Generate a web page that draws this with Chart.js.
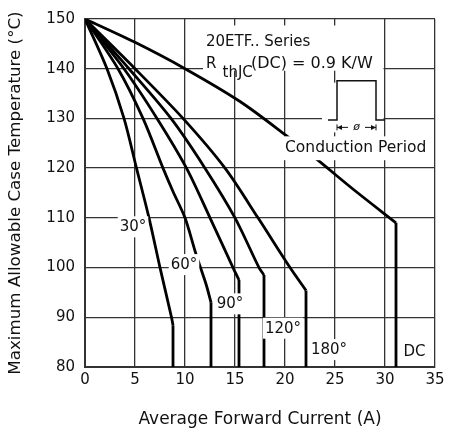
<!DOCTYPE html>
<html>
<head>
<meta charset="utf-8">
<script src="https://cdn.jsdelivr.net/npm/chart.js@4"></script>
<style>
html, body { margin: 0; padding: 0; background: #fff; }
#wrap { width: 449px; height: 434px; }
</style>
</head>
<body>
<div id="wrap"><canvas id="chartCaseTemp" width="449" height="434"></canvas></div>
<script>
// curve readings: average forward current (A) vs max case temperature (deg C)
// last point of each list is the foot of the vertical drop
var cur30 = [0, 2.2, 3.9, 5.15, 6.4, 7.5, 8.65, 8.8, 8.8];
var temp30 = [150, 140, 130, 120, 110, 100, 90, 88.4, 80];

var cur60 = [0, 3.3, 5.8, 7.8, 8.8, 10.0, 11.1, 12.1, 12.6, 12.6];
var temp60 = [150, 140, 130, 120, 115.3, 110, 102.7, 96.7, 93, 80];

var cur90 = [0, 3.9, 7.2, 10.15, 12.5, 14.8, 15.4, 15.4];
var temp90 = [150, 140, 130, 120, 110, 100, 97.5, 80];

var cur120 = [0, 4.4, 8.6, 12.0, 15.0, 17.4, 17.9, 17.9];
var temp120 = [150, 140, 130, 120, 110, 100, 98.5, 80];

var cur180 = [0, 5.0, 9.8, 14.0, 17.3, 20.5, 22.1, 22.1];
var temp180 = [150, 140, 130, 120, 110, 100, 95.4, 80];

var curDC = [0, 5, 10, 15.5, 20.1, 23.1, 27.1, 31.1, 31.1];
var tempDC = [150, 145.3, 140, 133.4, 126.6, 121.9, 115.3, 109, 80];

var curveLabels = ['30°', '60°', '90°', '120°', '180°', 'DC'];
var xTicks = [0, 5, 10, 15, 20, 25, 30, 35];
var yTicks = [80, 90, 100, 110, 120, 130, 140, 150];

var FONT = '"DejaVu Sans", sans-serif';

function toPoints(xs, ys, from, to) {
    var pts = [];
    for (var i = from; i < to; i++) {
        pts.push({ x: xs[i], y: ys[i] });
    }
    return pts;
}

// smooth bending part + straight vertical drop
function curve(xs, ys) {
    var n = xs.length;
    var common = { showLine: true, borderColor: '#000', borderWidth: 2.8, pointRadius: 0, fill: false };
    return [
        Object.assign({ data: toPoints(xs, ys, 0, n - 1), tension: 0.3 }, common),
        Object.assign({ data: toPoints(xs, ys, n - 2, n), tension: 0 }, common)
    ];
}

// label anchor points in data units (current, temperature)
var labelAt = [[4.8, 108.3], [9.9, 100.7], [14.5, 92.8], [19.8, 87.9], [24.4, 83.6], [32.95, 83.1]];

var notesPlugin = {
    id: 'notes',
    beforeDatasetsDraw: function (chart) {
        var ctx = chart.ctx;
        var px = function (v) { return chart.scales.x.getPixelForValue(v); };
        var py = function (v) { return chart.scales.y.getPixelForValue(v); };
        ctx.save();
        ctx.fillStyle = '#fff';
        // white patch behind the series / Rth text
        ctx.fillRect(px(11.8), py(148.7), px(30) - px(11.8) - 1.5, py(139.6) - py(148.7));
        // patch behind the pulse symbol
        ctx.fillRect(px(23.7), py(137.2), px(30) - px(23.7) - 1.5, py(127.2) - py(137.2));

        ctx.fillStyle = '#111';
        ctx.font = '15px ' + FONT;
        ctx.textBaseline = 'alphabetic';
        ctx.textAlign = 'left';
        ctx.fillText('20ETF.. Series', px(12.1), py(144.6));
        ctx.fillText('R', px(12.1), py(140.2));
        ctx.fillText('thJC', px(13.75), py(138.3));
        ctx.font = '16px ' + FONT;
        ctx.fillText('(DC) = 0.9 K/W', px(16.6), py(140.2));

        // pulse symbol
        var base = py(129.7);
        var top = py(137.6);
        var l = px(25.2), r = px(29.1);
        ctx.strokeStyle = '#111';
        ctx.lineWidth = 1.5;
        ctx.beginPath();
        ctx.moveTo(px(24.3), base);
        ctx.lineTo(l, base);
        ctx.lineTo(l, top);
        ctx.lineTo(r, top);
        ctx.lineTo(r, base);
        ctx.lineTo(px(30.0), base);
        ctx.stroke();

        // arrows with phi
        var ay = py(128.2);
        ctx.lineWidth = 1;
        ctx.beginPath();
        ctx.moveTo(l, ay - 3); ctx.lineTo(l, ay + 3);
        ctx.moveTo(r, ay - 3); ctx.lineTo(r, ay + 3);
        ctx.moveTo(l, ay); ctx.lineTo(l + 11, ay);
        ctx.moveTo(r - 11, ay); ctx.lineTo(r, ay);
        ctx.stroke();
        ctx.beginPath();
        ctx.moveTo(l, ay); ctx.lineTo(l + 5, ay - 2.5); ctx.lineTo(l + 5, ay + 2.5); ctx.closePath();
        ctx.moveTo(r, ay); ctx.lineTo(r - 5, ay - 2.5); ctx.lineTo(r - 5, ay + 2.5); ctx.closePath();
        ctx.fill();
        ctx.font = 'italic 11px ' + FONT;
        ctx.textAlign = 'center';
        ctx.textBaseline = 'middle';
        ctx.fillText('ø', (l + r) / 2, ay);
        ctx.restore();
    },
    afterDatasetsDraw: function (chart) {
        var ctx = chart.ctx;
        var px = function (v) { return chart.scales.x.getPixelForValue(v); };
        var py = function (v) { return chart.scales.y.getPixelForValue(v); };
        ctx.save();
        ctx.textBaseline = 'middle';

        // conduction period caption hides the DC line behind it
        ctx.fillStyle = '#fff';
        ctx.fillRect(px(19.8), py(126.4), px(34.7) - px(19.8), py(121.6) - py(126.4));
        ctx.fillStyle = '#111';
        ctx.font = '15.5px ' + FONT;
        ctx.textAlign = 'left';
        ctx.fillText('Conduction Period', px(20.0), py(124.1));

        ctx.font = '15px ' + FONT;
        ctx.textAlign = 'center';
        for (var i = 0; i < curveLabels.length; i++) {
            var cx = px(labelAt[i][0]);
            var cy = py(labelAt[i][1]);
            var w = ctx.measureText(curveLabels[i]).width + 4;
            ctx.fillStyle = '#fff';
            ctx.fillRect(cx - w / 2, cy - 10, w, 21);
            ctx.fillStyle = '#111';
            ctx.fillText(curveLabels[i], cx, cy + 1);
        }
        ctx.restore();
    }
};

var ctx = document.getElementById('chartCaseTemp');
var myChart = new Chart(ctx, {
    type: 'scatter',
    data: {
        datasets: [].concat(
            curve(cur30, temp30),
            curve(cur60, temp60),
            curve(cur90, temp90),
            curve(cur120, temp120),
            curve(cur180, temp180),
            curve(curDC, tempDC)
        )
    },
    options: {
        responsive: false,
        animation: false,
        layout: { padding: { top: 16, right: 14, left: 0, bottom: 0 } },
        plugins: {
            legend: { display: false },
            tooltip: { enabled: false }
        },
        scales: {
            x: {
                type: 'linear',
                min: xTicks[0],
                max: xTicks[xTicks.length - 1],
                afterBuildTicks: function (scale) {
                    scale.ticks = xTicks.map(function (v) { return { value: v }; });
                },
                ticks: { padding: 4, color: '#111', font: { family: FONT, size: 15 } },
                grid: { color: '#333', lineWidth: 1.3, drawTicks: false },
                border: { color: '#333', width: 2 },
                title: {
                    display: true,
                    text: 'Average Forward Current (A)',
                    color: '#111',
                    font: { family: FONT, size: 17 },
                    padding: { top: 0, bottom: 4 }
                },
                afterFit: function (scale) { scale.height = 67; }
            },
            y: {
                type: 'linear',
                min: yTicks[0],
                max: yTicks[yTicks.length - 1],
                afterBuildTicks: function (scale) {
                    scale.ticks = yTicks.map(function (v) { return { value: v }; });
                },
                ticks: { padding: 10, color: '#111', font: { family: FONT, size: 15 } },
                grid: { color: '#333', lineWidth: 1.3, drawTicks: false },
                border: { color: '#333', width: 2 },
                title: {
                    display: true,
                    text: 'Maximum Allowable Case Temperature (°C)',
                    color: '#111',
                    font: { family: FONT, size: 16.7 },
                    padding: { top: 6, bottom: 0 }
                },
                afterFit: function (scale) { scale.width = 85; }
            }
        }
    },
    plugins: [notesPlugin]
});
</script>
</body>
</html>
